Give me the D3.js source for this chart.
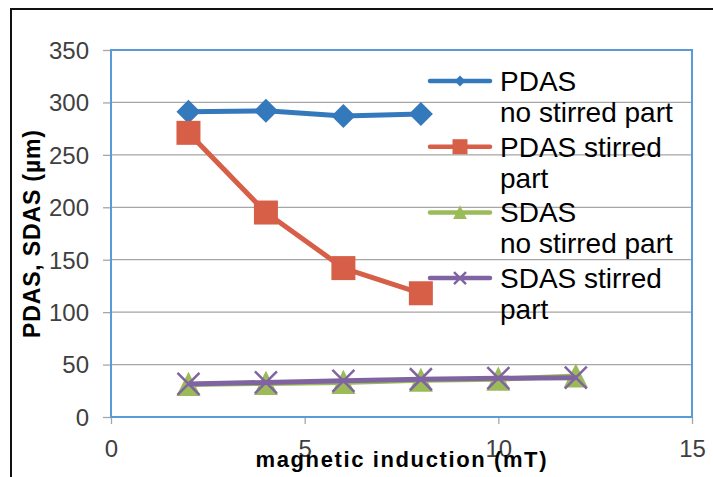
<!DOCTYPE html>
<html>
<head>
<meta charset="utf-8">
<script src="https://cdn.jsdelivr.net/npm/d3@7"></script>
<style>
  body { margin: 0; background: #fff; }
  svg { display: block; font-family: "Liberation Sans", Arial, sans-serif; }
</style>
</head>
<body>
<svg id="chart" width="713" height="477"></svg>
<script>
const pdasX = [2, 4, 6, 8];
const sdasX = [2, 4, 6, 8, 10, 12];
const pdasNoStirred = [291, 292, 287, 289];
const pdasStirred = [271, 195, 142, 118];
const sdasNoStirred = [31, 32, 33, 35, 36, 39];
const sdasStirred = [31.5, 33, 34.5, 36, 37, 37.5];
const seriesNames = [
  ["PDAS", "no stirred part"],
  ["PDAS stirred", "part"],
  ["SDAS", "no stirred part"],
  ["SDAS stirred", "part"],
];
const xTicks = [0, 5, 10, 15];
const yTicks = [0, 50, 100, 150, 200, 250, 300, 350];
const xTitle = "magnetic induction (mT)";
const yTitle = "PDAS, SDAS (µm)";

const svg = d3.select("#chart");
const plot = { left: 111, top: 50, right: 692, bottom: 417 };

const x = d3.scaleLinear().domain([0, 15]).range([plot.left, plot.right]);
const y = d3.scaleLinear().domain([0, 350]).range([plot.bottom, plot.top]);

const series = [
  { name: seriesNames[0], xs: pdasX, ys: pdasNoStirred, color: "#3579bd", marker: "diamond" },
  { name: seriesNames[1], xs: pdasX, ys: pdasStirred, color: "#d75f47", marker: "square" },
  { name: seriesNames[2], xs: sdasX, ys: sdasNoStirred, color: "#9bbb59", marker: "triangle" },
  { name: seriesNames[3], xs: sdasX, ys: sdasStirred, color: "#8064a2", marker: "cross" },
];

// outer frame
svg.append("path")
  .attr("d", "M11,477V9H713")
  .attr("fill", "none")
  .attr("stroke", "#111")
  .attr("stroke-width", 2);

// gridlines
svg.append("g")
  .selectAll("line")
  .data(yTicks.filter((t) => t > 0 && t < 350))
  .join("line")
  .attr("x1", plot.left)
  .attr("x2", plot.right)
  .attr("y1", (d) => y(d))
  .attr("y2", (d) => y(d))
  .attr("stroke", "#a6a6a6")
  .attr("stroke-width", 1.3);

// axes
const yAxis = svg.append("g")
  .attr("transform", `translate(${plot.left},0)`)
  .call(d3.axisLeft(y).tickValues(yTicks).tickSize(8).tickPadding(14));
const xAxis = svg.append("g")
  .attr("transform", `translate(0,${plot.bottom})`)
  .call(d3.axisBottom(x).tickValues(xTicks).tickSize(7));

[yAxis, xAxis].forEach((g) => {
  g.select(".domain").remove();
  g.selectAll(".tick line").attr("stroke", "#a6a6a6").attr("stroke-width", 1.3);
  g.selectAll(".tick text")
    .attr("fill", "#404040")
    .style("font-size", "24px")
    .style("font-family", "'Liberation Sans', Arial, sans-serif");
});
yAxis.selectAll(".tick text").attr("dy", "0.35em");
xAxis.selectAll(".tick text").attr("dy", null).attr("y", 40);

// plot area border
svg.append("rect")
  .attr("x", plot.left)
  .attr("y", plot.top)
  .attr("width", plot.right - plot.left)
  .attr("height", plot.bottom - plot.top)
  .attr("fill", "none")
  .attr("stroke", "#5b9bd5")
  .attr("stroke-width", 2);

function markerPath(type, s) {
  if (type === "diamond") return `M0,${-s}L${s},0L0,${s}L${-s},0Z`;
  if (type === "square") return `M${-s},${-s}H${s}V${s}H${-s}Z`;
  if (type === "triangle") return `M0,${-s * 1.1}L${s * 1.05},${s}H${-s * 1.05}Z`;
  return `M${-s},${-s}L${s},${s}M${s},${-s}L${-s},${s}`;
}

function drawMarker(g, type, color, s) {
  const p = g.append("path").attr("d", markerPath(type, s));
  if (type === "cross") {
    p.attr("fill", "none").attr("stroke", color).attr("stroke-width", 2.5);
  } else {
    p.attr("fill", color);
  }
}

const line = d3.line().x((d) => x(d[0])).y((d) => y(d[1]));
const markerSize = { diamond: 12, square: 12, triangle: 11.5, cross: 11 };

series.forEach((s) => {
  const pts = s.xs.map((v, i) => [v, s.ys[i]]);
  const g = svg.append("g");
  g.append("path")
    .attr("d", line(pts))
    .attr("fill", "none")
    .attr("stroke", s.color)
    .attr("stroke-width", 5)
    .attr("stroke-linejoin", "round");
  pts.forEach((p) => {
    const m = g.append("g").attr("transform", `translate(${x(p[0])},${y(p[1])})`);
    drawMarker(m, s.marker, s.color, markerSize[s.marker]);
  });
});

// legend
const legend = svg.append("g");
const legendMarker = { diamond: 5.5, square: 7.5, triangle: 6.5, cross: 6 };
series.forEach((s, i) => {
  const base = 91 + i * 65.7;
  const g = legend.append("g");
  g.append("line")
    .attr("x1", 430).attr("x2", 490)
    .attr("y1", base - 10).attr("y2", base - 10)
    .attr("stroke", s.color)
    .attr("stroke-width", 4.5)
    .attr("stroke-linecap", "round");
  const m = g.append("g").attr("transform", `translate(460,${base - 10})`);
  drawMarker(m, s.marker, s.color, legendMarker[s.marker]);
  g.selectAll("text")
    .data(s.name)
    .join("text")
    .attr("x", 500)
    .attr("y", (d, j) => base + j * 31)
    .attr("fill", "#000")
    .style("font-size", "28px")
    .text((d) => d);
});

// axis titles
svg.append("text")
  .attr("x", 401)
  .attr("y", 467)
  .attr("text-anchor", "middle")
  .attr("textLength", 291)
  .attr("lengthAdjust", "spacing")
  .style("font-size", "22px")
  .style("font-weight", "bold")
  .text(xTitle);

svg.append("text")
  .attr("transform", "translate(40,234) rotate(-90)")
  .attr("text-anchor", "middle")
  .attr("textLength", 208)
  .attr("lengthAdjust", "spacing")
  .style("font-size", "23px")
  .style("font-weight", "bold")
  .text(yTitle);
</script>
</body>
</html>
